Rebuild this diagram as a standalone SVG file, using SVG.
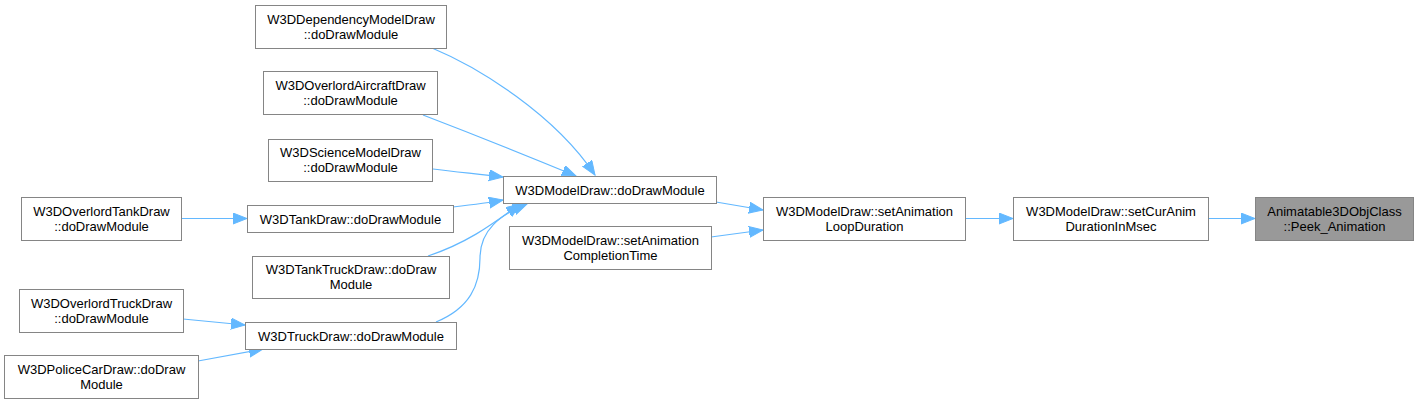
<svg xmlns="http://www.w3.org/2000/svg" width="1419" height="404" viewBox="0 0 1419 404">
<style>
.n rect{fill:#ffffff;stroke:#858585;stroke-width:1}
.n.hl rect{fill:#999999}
.n text{font-family:"Liberation Sans",Arial,sans-serif;font-size:13px;fill:#000000;text-anchor:middle}
.e path{fill:none;stroke:#63b8ff;stroke-width:1.2;marker-end:url(#ah)}
</style>
<defs>
<marker id="ah" markerUnits="userSpaceOnUse" markerWidth="15" markerHeight="12" refX="14" refY="5.5" orient="auto">
<path d="M0,0 L14,5.5 L0,11 z" fill="#63b8ff" stroke="#63b8ff" stroke-width="1"/>
</marker>
</defs>
<rect width="1419" height="404" fill="#ffffff"/>
<g id="edges" class="e">
<path d="M432,48 C480,68 555,115 595,175"/>
<path d="M423,115 C470,133 530,157 576,176"/>
<path d="M433,169 C455,172 480,174 503,177"/>
<path d="M453,207 C470,205 487,203 503,200"/>
<path d="M428,256 C470,242 495,222 520,204"/>
<path d="M436,322 C470,308 480,285 480,258 C480,230 500,215 527,204"/>
<path d="M181,218.5 L247,218.5"/>
<path d="M183,319 L245,325"/>
<path d="M198,361 L263,349"/>
<path d="M716,202 L763,210"/>
<path d="M711,237 L763,230"/>
<path d="M965,218.5 L1013,218.5"/>
<path d="M1208,218.5 L1255,218.5"/>
</g>
<g id="n1" class="n"><rect x="255.5" y="5.5" width="191" height="43"/><text x="351" y="23.5">W3DDependencyModelDraw</text><text x="351" y="38.5">::doDrawModule</text></g>
<g id="n2" class="n"><rect x="263.5" y="71.5" width="174" height="43"/><text x="350.5" y="89.5">W3DOverlordAircraftDraw</text><text x="350.5" y="104.5">::doDrawModule</text></g>
<g id="n3" class="n"><rect x="268.5" y="139.5" width="164" height="42"/><text x="350.5" y="157">W3DScienceModelDraw</text><text x="350.5" y="172">::doDrawModule</text></g>
<g id="n4" class="n"><rect x="21.5" y="197.5" width="160" height="43"/><text x="101.5" y="215.5">W3DOverlordTankDraw</text><text x="101.5" y="230.5">::doDrawModule</text></g>
<g id="n5" class="n"><rect x="247.5" y="205.5" width="206" height="27"/><text x="350.5" y="223.5">W3DTankDraw::doDrawModule</text></g>
<g id="n6" class="n"><rect x="252.5" y="256.5" width="197" height="42"/><text x="351" y="274">W3DTankTruckDraw::doDraw</text><text x="351" y="289">Module</text></g>
<g id="n7" class="n"><rect x="19.5" y="289.5" width="164" height="43"/><text x="101.5" y="307.5">W3DOverlordTruckDraw</text><text x="101.5" y="322.5">::doDrawModule</text></g>
<g id="n8" class="n"><rect x="245.5" y="322.5" width="211" height="27"/><text x="351" y="340.5">W3DTruckDraw::doDrawModule</text></g>
<g id="n9" class="n"><rect x="4.5" y="355.5" width="194" height="43"/><text x="101.5" y="373.5">W3DPoliceCarDraw::doDraw</text><text x="101.5" y="388.5">Module</text></g>
<g id="n10" class="n"><rect x="503.5" y="176.5" width="213" height="27"/><text x="610" y="194.5">W3DModelDraw::doDrawModule</text></g>
<g id="n11" class="n"><rect x="509.5" y="226.5" width="202" height="43"/><text x="610.5" y="244.5">W3DModelDraw::setAnimation</text><text x="610.5" y="259.5">CompletionTime</text></g>
<g id="n12" class="n"><rect x="763.5" y="197.5" width="202" height="43"/><text x="864.5" y="215.5">W3DModelDraw::setAnimation</text><text x="864.5" y="230.5">LoopDuration</text></g>
<g id="n13" class="n"><rect x="1013.5" y="197.5" width="195" height="43"/><text x="1111" y="215.5">W3DModelDraw::setCurAnim</text><text x="1111" y="230.5">DurationInMsec</text></g>
<g id="n14" class="n hl"><rect x="1255.5" y="197.5" width="158" height="43"/><text x="1334.5" y="215.5">Animatable3DObjClass</text><text x="1334.5" y="230.5">::Peek_Animation</text></g>
</svg>
